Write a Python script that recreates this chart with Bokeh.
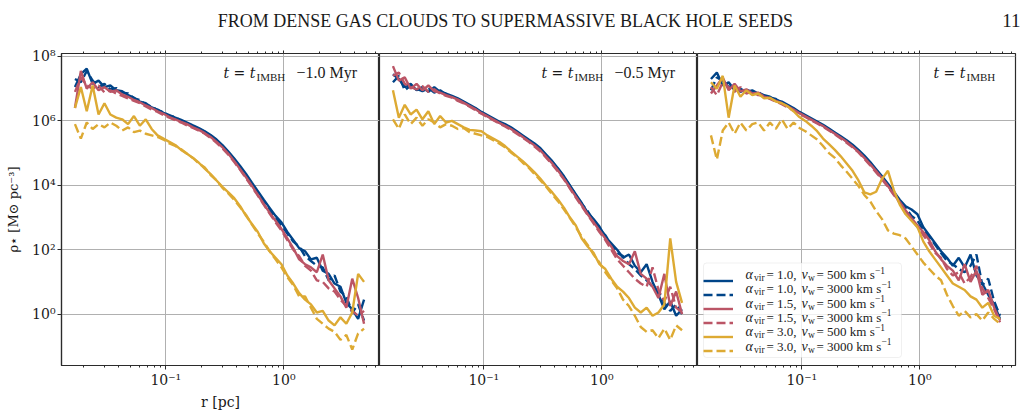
from bokeh.plotting import figure
from bokeh.models import (Range1d, FixedTicker, CustomJSTickFormatter, LogAxis,
                          Label, Legend, LegendItem, BoxAnnotation)
from bokeh.layouts import row, column
from bokeh.embed import file_html
from bokeh.resources import INLINE

# ---------------------------------------------------------------------------
# Radial bins (log10 of r in pc) shared by every profile
# ---------------------------------------------------------------------------
LOG_R_PC = [-1.77, -1.72, -1.67, -1.62, -1.57, -1.52, -1.47, -1.42, -1.37, -1.32,
            -1.27, -1.22, -1.17, -1.12, -1.07, -1.02, -0.97, -0.92, -0.87, -0.82,
            -0.77, -0.72, -0.67, -0.62, -0.57, -0.52, -0.47, -0.42, -0.37, -0.32,
            -0.27, -0.22, -0.17, -0.12, -0.07, -0.02, 0.03, 0.08, 0.13, 0.18,
            0.23, 0.28, 0.33, 0.38, 0.43, 0.48, 0.53, 0.58, 0.63, 0.68]

# log10 of stellar density [Msun pc^-3]; snapshot t_IMBH - 1.0 Myr
T10_A10_V500 = [7.05, 7.45, 7.62, 7.15, 7.25, 7.05, 7.10, 6.95, 6.92, 6.80,
                6.72, 6.60, 6.55, 6.42, 6.35, 6.25, 6.18, 6.10, 6.03, 5.95,
                5.86, 5.78, 5.68, 5.56, 5.42, 5.25, 5.05, 4.83, 4.60, 4.35,
                4.08, 3.82, 3.55, 3.30, 3.05, 2.85, 2.55, 2.30, 2.05, 1.95,
                1.70, 1.75, 1.35, 1.25, 0.95, 0.85, 0.35, 0.15, -0.15, 0.45]
T10_A10_V3000 = [7.30, 7.20, 7.55, 7.25, 7.05, 7.15, 6.98, 7.02, 6.88, 6.85,
                 6.70, 6.65, 6.50, 6.45, 6.33, 6.27, 6.15, 6.12, 6.00, 5.93,
                 5.84, 5.75, 5.66, 5.53, 5.40, 5.22, 5.02, 4.80, 4.55, 4.30,
                 4.02, 3.75, 3.50, 3.22, 3.00, 2.75, 2.50, 2.25, 2.10, 1.80,
                 1.65, 1.50, 1.45, 1.05, 1.20, 0.70, 0.55, 0.05, 0.30, -0.20]
T10_A15_V500 = [6.40, 7.55, 7.00, 7.20, 6.95, 7.05, 6.90, 6.95, 6.82, 6.75,
                6.65, 6.58, 6.48, 6.40, 6.30, 6.22, 6.12, 6.05, 5.97, 5.90,
                5.80, 5.72, 5.62, 5.50, 5.35, 5.18, 4.98, 4.75, 4.50, 4.25,
                3.98, 3.70, 3.42, 3.15, 2.90, 2.65, 2.35, 2.05, 1.70, 1.55,
                1.45, 1.30, 1.85, 1.05, 0.80, 0.55, 0.20, 1.10, 0.50, -0.30]
T10_A15_V3000 = [6.90, 7.35, 7.10, 7.00, 7.10, 6.88, 6.95, 6.85, 6.78, 6.70,
                 6.62, 6.55, 6.45, 6.35, 6.28, 6.18, 6.10, 6.02, 5.95, 5.86,
                 5.78, 5.70, 5.60, 5.47, 5.32, 5.15, 4.95, 4.72, 4.48, 4.22,
                 3.95, 3.68, 3.40, 3.12, 2.85, 2.60, 2.30, 2.00, 1.80, 1.50,
                 1.35, 1.05, 1.00, 0.80, 0.70, 0.45, 0.25, 0.10, -0.05, 0.10]
T10_A30_V500 = [6.40, 7.05, 6.30, 7.10, 6.20, 6.55, 6.20, 6.10, 6.05, 5.90,
                6.15, 5.85, 6.05, 5.75, 5.55, 5.45, 5.35, 5.25, 5.10, 4.98,
                4.85, 4.70, 4.52, 4.35, 4.15, 3.95, 3.78, 3.60, 3.35, 3.05,
                2.80, 2.55, 2.20, 1.95, 1.75, 1.55, 1.20, 0.95, 0.65, 0.45,
                0.30, 0.05, 0.10, -0.20, -0.35, -0.10, -0.30, 0.05, 1.25, 1.00]
T10_A30_V3000 = [5.90, 5.45, 5.95, 5.75, 5.90, 5.80, 5.95, 5.85, 5.70, 5.80,
                 5.65, 5.70, 5.60, 5.55, 5.50, 5.42, 5.30, 5.22, 5.12, 4.98,
                 4.85, 4.68, 4.55, 4.32, 4.15, 3.92, 3.75, 3.55, 3.32, 3.08,
                 2.78, 2.50, 2.25, 1.95, 1.70, 1.45, 1.15, 0.90, 0.55, 0.55,
                 0.20, -0.15, -0.30, -0.45, -0.55, -0.80, -0.65, -1.10, -0.60, -0.45]

# snapshot t_IMBH - 0.5 Myr
T05_A10_V500 = [7.45, 7.30, 7.05, 7.15, 6.95, 7.05, 6.90, 7.05, 6.90, 6.85,
                6.78, 6.70, 6.60, 6.50, 6.40, 6.28, 6.18, 6.08, 5.98, 5.90,
                5.80, 5.68, 5.55, 5.42, 5.30, 5.15, 4.95, 4.75, 4.52, 4.28,
                4.00, 3.72, 3.45, 3.15, 2.95, 2.72, 2.40, 2.20, 2.00, 1.75,
                1.85, 1.50, 1.30, 1.55, 1.00, 0.60, 0.15, 0.40, -0.05, 0.15]
T05_A10_V3000 = [7.20, 7.40, 6.95, 7.10, 7.00, 6.92, 7.02, 6.88, 6.95, 6.82,
                 6.75, 6.68, 6.58, 6.48, 6.38, 6.25, 6.15, 6.05, 5.95, 5.87,
                 5.77, 5.65, 5.52, 5.40, 5.27, 5.12, 4.92, 4.72, 4.50, 4.25,
                 3.98, 3.70, 3.42, 3.20, 2.90, 2.65, 2.45, 2.15, 1.90, 1.80,
                 1.55, 1.40, 1.20, 1.05, 0.85, 0.70, 0.35, 0.10, 0.30, 0.00]
T05_A15_V500 = [7.70, 7.25, 7.35, 7.00, 7.15, 6.95, 7.10, 6.92, 6.88, 6.80,
                6.74, 6.66, 6.56, 6.46, 6.36, 6.24, 6.14, 6.04, 5.94, 5.85,
                5.75, 5.63, 5.50, 5.37, 5.24, 5.08, 4.88, 4.68, 4.45, 4.20,
                3.92, 3.65, 3.38, 3.10, 2.85, 2.60, 2.35, 2.10, 1.80, 1.65,
                1.55, 1.95, 1.25, 1.10, 0.85, 0.50, 1.25, 0.25, 0.70, 0.00]
T05_A15_V3000 = [7.40, 7.50, 7.15, 7.05, 6.98, 7.08, 6.90, 6.98, 6.85, 6.78,
                 6.72, 6.62, 6.54, 6.44, 6.33, 6.22, 6.12, 6.02, 5.92, 5.83,
                 5.72, 5.60, 5.48, 5.35, 5.20, 5.05, 4.85, 4.65, 4.42, 4.18,
                 3.90, 3.62, 3.35, 3.08, 2.82, 2.55, 2.30, 2.00, 1.70, 1.50,
                 1.30, 1.10, 0.95, 0.85, 1.45, 0.75, 0.40, 0.85, 0.20, 0.05]
T05_A30_V500 = [6.95, 6.10, 6.50, 6.20, 6.35, 6.05, 6.30, 5.90, 6.15, 5.95,
                6.00, 5.90, 5.80, 5.72, 5.70, 5.68, 5.55, 5.45, 5.35, 5.22,
                5.05, 4.90, 4.75, 4.58, 4.40, 4.20, 3.98, 3.78, 3.55, 3.30,
                3.00, 2.75, 2.35, 2.10, 1.90, 1.55, 1.40, 1.10, 0.85, 0.70,
                0.50, 0.20, 0.05, 0.20, -0.05, 0.05, 0.30, 2.35, 1.00, 0.35]
T05_A30_V3000 = [6.05, 5.75, 6.20, 5.90, 6.10, 5.85, 6.05, 5.95, 5.80, 5.90,
                 5.85, 5.75, 5.78, 5.65, 5.60, 5.55, 5.50, 5.40, 5.30, 5.18,
                 5.02, 4.88, 4.70, 4.55, 4.35, 4.15, 3.95, 3.72, 3.50, 3.25,
                 2.98, 2.70, 2.40, 2.15, 1.85, 1.60, 1.30, 1.05, 0.80, 0.45,
                 0.25, -0.05, -0.40, -0.55, -0.50, -0.75, -0.45, -0.80, -0.35, -0.50]

# snapshot t_IMBH
T00_A10_V500 = [7.30, 7.50, 7.10, 7.20, 6.95, 7.00, 6.90, 6.95, 6.85, 6.80,
                6.75, 6.65, 6.60, 6.50, 6.40, 6.28, 6.18, 6.08, 5.98, 5.88,
                5.76, 5.64, 5.52, 5.40, 5.26, 5.10, 4.92, 4.72, 4.50, 4.28,
                4.05, 3.80, 3.55, 3.35, 3.25, 3.10, 2.70, 2.45, 2.20, 1.95,
                1.75, 1.50, 1.75, 1.45, 1.85, 1.20, 0.95, 0.60, 0.30, -0.15]
T00_A10_V3000 = [6.95, 7.35, 7.25, 7.05, 7.10, 6.90, 6.98, 6.88, 6.90, 6.78,
                 6.72, 6.68, 6.55, 6.48, 6.37, 6.25, 6.15, 6.05, 5.95, 5.85,
                 5.73, 5.62, 5.50, 5.37, 5.23, 5.07, 4.88, 4.68, 4.47, 4.25,
                 4.00, 3.76, 3.50, 3.30, 3.05, 2.90, 2.60, 2.40, 2.15, 1.90,
                 1.65, 1.55, 1.40, 1.30, 1.50, 1.85, 0.90, 1.10, 0.40, -0.05]
T00_A15_V500 = [6.85, 7.10, 7.35, 6.95, 7.15, 6.92, 6.98, 6.85, 6.88, 6.75,
                6.70, 6.62, 6.55, 6.45, 6.35, 6.24, 6.14, 6.04, 5.94, 5.84,
                5.72, 5.60, 5.48, 5.35, 5.20, 5.04, 4.85, 4.65, 4.44, 4.22,
                3.98, 3.72, 3.48, 3.22, 2.98, 2.75, 2.55, 2.30, 1.95, 1.70,
                1.50, 1.35, 1.05, 1.55, 1.00, 1.35, 0.60, 0.75, 0.20, -0.20]
T00_A15_V3000 = [7.05, 6.80, 7.20, 7.05, 6.90, 7.05, 6.85, 6.92, 6.80, 6.78,
                 6.68, 6.60, 6.52, 6.42, 6.32, 6.22, 6.12, 6.02, 5.92, 5.82,
                 5.70, 5.58, 5.45, 5.32, 5.18, 5.02, 4.82, 4.62, 4.40, 4.18,
                 3.95, 3.70, 3.45, 3.20, 2.95, 2.70, 2.45, 2.20, 1.90, 1.75,
                 1.40, 1.20, 1.30, 0.95, 1.15, 1.50, 0.80, 0.50, 0.15, -0.25]
T00_A30_V500 = [7.20, 7.00, 7.40, 6.10, 7.10, 6.75, 6.95, 6.80, 6.85, 6.70,
                6.72, 6.60, 6.55, 6.45, 6.30, 6.12, 6.00, 5.85, 5.68, 5.45,
                5.28, 5.10, 4.90, 4.68, 4.45, 4.15, 3.78, 3.72, 3.80, 4.20,
                4.45, 3.85, 3.40, 3.10, 2.90, 2.70, 2.25, 1.95, 1.70, 1.45,
                1.20, 0.95, 0.85, 0.75, 0.55, 0.45, 0.20, 0.35, -0.05, -0.15]
T00_A30_V3000 = [5.55, 4.80, 5.70, 5.95, 5.60, 5.95, 5.70, 5.90, 5.95, 5.70,
                 5.95, 5.75, 6.05, 5.75, 5.95, 5.78, 5.68, 5.55, 5.42, 5.22,
                 5.00, 4.85, 4.62, 4.42, 4.20, 3.98, 3.70, 3.50, 3.20, 2.95,
                 2.60, 2.50, 2.45, 2.35, 2.10, 1.85, 1.60, 1.40, 1.20, 1.05,
                 0.60, 0.25, -0.05, 0.10, -0.10, 0.00, -0.20, 0.05, -0.15, -0.30]

# Runs: (alpha_vir, v_w) labels and styles, in drawing order
ALPHA_VIR = ["1.0", "1.0", "1.5", "1.5", "3.0", "3.0"]
V_WIND = ["500", "3000", "500", "3000", "500", "3000"]
COLORS = ["#004488", "#004488", "#BB5566", "#BB5566", "#DDAA33", "#DDAA33"]
DASHES = ["solid", "9 4", "solid", "9 4", "solid", "9 4"]

PANEL_SERIES = [
    [T10_A10_V500, T10_A10_V3000, T10_A15_V500, T10_A15_V3000, T10_A30_V500, T10_A30_V3000],
    [T05_A10_V500, T05_A10_V3000, T05_A15_V500, T05_A15_V3000, T05_A30_V500, T05_A30_V3000],
    [T00_A10_V500, T00_A10_V3000, T00_A15_V500, T00_A15_V3000, T00_A30_V500, T00_A30_V3000],
]
PANEL_OFFSETS = ["\u22121.0 Myr", "\u22120.5 Myr", ""]

X_MAJOR = [0.01, 0.1, 1.0, 10.0]
X_MINOR = [0.02, 0.03, 0.04, 0.05, 0.06, 0.07, 0.08, 0.09,
           0.2, 0.3, 0.4, 0.5, 0.6, 0.7, 0.8, 0.9,
           2.0, 3.0, 4.0, 5.0, 6.0, 7.0, 8.0, 9.0]
Y_MAJOR = [1e-2, 1e0, 1e2, 1e4, 1e6, 1e8]

X_LIMITS = (10 ** -1.884, 10 ** 0.811)
Y_LIMITS = (10 ** -1.596, 10 ** 8.093)

HEADER = "FROM DENSE GAS CLOUDS TO SUPERMASSIVE BLACK HOLE SEEDS"
PAGE_NUMBER = "11"

SERIF = "DejaVu Serif"
TIMES = "Liberation Serif"
INK = "#1a1a1a"
SPINE = "#2b2b2b"
GRID = "#b0b0b0"

POW10 = CustomJSTickFormatter(code="""
    const e = Math.round(Math.log10(tick));
    const sup = {"-": "\u207b", "0": "\u2070", "1": "\u00b9", "2": "\u00b2", "3": "\u00b3",
                 "4": "\u2074", "5": "\u2075", "6": "\u2076", "7": "\u2077", "8": "\u2078", "9": "\u2079"};
    return "10" + String(e).split("").map(c => sup[c]).join("");
""")
BLANK = CustomJSTickFormatter(code="return ' ';")

FRAME_H = 314
FIG_H = 368


def style_axis(ax):
    ax.major_label_text_font = SERIF
    ax.major_label_text_font_size = "14px"
    ax.major_label_text_color = INK
    ax.axis_line_color = SPINE
    ax.axis_line_width = 1.2
    ax.major_tick_line_color = SPINE
    ax.minor_tick_line_color = SPINE
    ax.major_tick_in = 0
    ax.major_tick_out = 4
    ax.minor_tick_in = 0
    ax.minor_tick_out = 2
    ax.major_label_standoff = 2


def txt(p, x, y, text, font=TIMES, size="14px", style="normal", align="left", baseline="middle"):
    p.add_layout(Label(x=x, y=y, x_units="screen", y_units="screen", text=text,
                       text_font=font, text_font_size=size, text_font_style=style,
                       text_color=INK, text_align=align, text_baseline=baseline,
                       level="overlay"))


def make_panel(idx, width, left, right):
    p = figure(width=width, height=FIG_H, x_axis_type="log", y_axis_type="log",
               x_range=Range1d(*X_LIMITS), y_range=Range1d(*Y_LIMITS),
               toolbar_location=None, output_backend="svg",
               y_axis_location="left" if idx == 0 else None,
               min_border_left=left, min_border_right=right,
               min_border_top=FIG_H - 48 - FRAME_H, min_border_bottom=48)
    p.background_fill_color = "white"
    p.border_fill_color = "white"
    p.outline_line_color = SPINE
    p.outline_line_width = 1.2

    bottom = p.below[0]
    bottom.ticker = FixedTicker(ticks=X_MAJOR, minor_ticks=X_MINOR)
    bottom.formatter = POW10
    style_axis(bottom)
    p.xgrid.ticker = FixedTicker(ticks=X_MAJOR)
    p.ygrid.ticker = FixedTicker(ticks=Y_MAJOR)
    for g in (p.xgrid, p.ygrid):
        g.grid_line_color = GRID
        g.grid_line_width = 1

    if idx == 0:
        left_ax = p.left[0]
        left_ax.ticker = FixedTicker(ticks=Y_MAJOR)
        left_ax.formatter = POW10
        style_axis(left_ax)
        left_ax.axis_label = "\u03c1\u22c6 [M\u2299 pc\u207b\u00b3]"
        left_ax.axis_label_text_font = SERIF
        left_ax.axis_label_text_font_size = "13px"
        left_ax.axis_label_text_font_style = "normal"
        left_ax.axis_label_text_color = INK
        left_ax.axis_label_standoff = 8
        bottom.axis_label = "r [pc]"
        bottom.axis_label_text_font = SERIF
        bottom.axis_label_text_font_size = "14px"
        bottom.axis_label_text_font_style = "normal"
        bottom.axis_label_text_color = INK
        bottom.axis_label_standoff = 3

    top = LogAxis(ticker=FixedTicker(ticks=X_MAJOR, minor_ticks=X_MINOR),
                  formatter=BLANK, major_label_text_font_size="2px",
                  major_label_standoff=0,
                  axis_line_color=None, major_tick_in=0, major_tick_out=3,
                  minor_tick_in=0, minor_tick_out=2,
                  major_tick_line_color=SPINE, minor_tick_line_color=SPINE)
    p.add_layout(top, "above")

    r_pc = [10 ** v for v in LOG_R_PC]
    renderers = []
    for k, series in enumerate(PANEL_SERIES[idx]):
        rho = [10 ** v for v in series]
        renderers.append(p.line(r_pc, rho, line_color=COLORS[k], line_width=2.4,
                                line_dash=DASHES[k]))

    # snapshot time annotation in the upper right
    yc = FRAME_H - 21
    dx0 = 162 if idx < 2 else 236
    txt(p, dx0, yc, "t = t", font=SERIF, size="14px", style="italic")
    txt(p, dx0 + 33, yc - 4, "IMBH", size="11px")
    if PANEL_OFFSETS[idx]:
        txt(p, dx0 + 73, yc, PANEL_OFFSETS[idx], size="16px")
    return p, renderers


p1, _ = make_panel(0, 379, 61, 0)
p2, _ = make_panel(1, 318, 0, 0)
p3, rs3 = make_panel(2, 329, 0, 11)

# legend frame drawn underneath the curves' legend samples and text
p3.add_layout(BoxAnnotation(left=6, right=204, bottom=8, top=102.5,
                            left_units="screen", right_units="screen",
                            bottom_units="screen", top_units="screen",
                            fill_color="white", fill_alpha=0.8,
                            line_color="#cccccc", line_width=1, border_radius=3,
                            level="underlay"))

legend = Legend(items=[LegendItem(label=" ", renderers=[r]) for r in rs3],
                location=(6, 8), glyph_width=30, glyph_height=13, label_height=13,
                label_width=150, label_standoff=8, spacing=1, padding=5,
                label_text_font_size="8px", background_fill_alpha=0,
                border_line_color=None)
p3.add_layout(legend)

for i in range(6):
    yc = 91 - 14.3 * i
    txt(p3, 48, yc, "\u03b1", size="14px", style="italic")
    txt(p3, 56.5, yc - 3.5, "vir", size="9.5px")
    txt(p3, 69, yc, "= " + ALPHA_VIR[i] + ",", size="13px")
    txt(p3, 104, yc, "v", size="14px", style="italic")
    txt(p3, 110.5, yc - 3.5, "w", size="9.5px")
    txt(p3, 119, yc, "= " + V_WIND[i] + " km s", size="13px")
    txt(p3, 177.5 if V_WIND[i] == "500" else 184, yc + 4.5, "\u22121", size="9.5px")

# running header
head = figure(width=1026, height=45, x_range=Range1d(0, 1026), y_range=Range1d(0, 45),
              toolbar_location=None, output_backend="svg",
              x_axis_location=None, y_axis_location=None, min_border=0)
head.grid.visible = False
head.outline_line_color = None
txt(head, 505, 25, HEADER, size="18px", align="center", baseline="alphabetic")
txt(head, 1020, 25, PAGE_NUMBER, size="19px", align="right", baseline="alphabetic")

layout = column(head, row(p1, p2, p3, spacing=0), spacing=0)
open("out.html", "w").write(file_html(layout, INLINE))
